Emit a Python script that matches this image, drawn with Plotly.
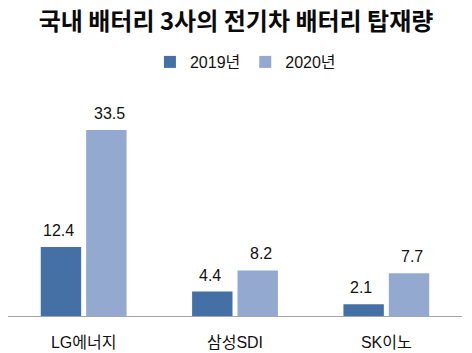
import plotly.graph_objects as go

categories = ["LG에너지", "삼성SDI", "SK이노"]
values_2019 = [12.4, 4.4, 2.1]
values_2020 = [33.5, 8.2, 7.7]
series_names = ["2019년", "2020년"]
colors = ["#4470A6", "#93A9D0"]

font_main = "Liberation Sans, Noto Sans CJK KR, sans-serif"

fig = go.Figure()
for name, vals, col in zip(series_names, [values_2019, values_2020], colors):
    fig.add_trace(go.Bar(
        x=categories, y=vals, name=name, marker_color=col,
        marker_line_width=0,
    ))

# value labels above bars
offsets = [-25.5, 25.5]
for vals, dx in zip([values_2019, values_2020], offsets):
    for c, v in zip(categories, vals):
        fig.add_annotation(
            x=c, y=v, text=f"{v}", showarrow=False,
            xshift=dx, yshift=6, yanchor="bottom",
            font=dict(family=font_main, size=16, color="#111111"),
        )

fig.update_layout(
    width=472, height=353,
    margin=dict(l=8, r=10, t=96, b=37, autoexpand=False),
    paper_bgcolor="white", plot_bgcolor="white",
    barmode="group", bargap=0.4, bargroupgap=0.11,
    title=dict(
        text="<b>국내 배터리 3사의 전기차 배터리 탑재량</b>",
        x=0.5, xanchor="center", xref="container",
        y=1 - 22 / 353, yanchor="middle", yref="container",
        font=dict(family="Noto Sans CJK KR, sans-serif", size=24, color="#0a0a0a"),
    ),
    legend=dict(
        orientation="h", x=0.52, xanchor="center", xref="container",
        y=1 - 62 / 353, yanchor="middle", yref="container",
        font=dict(family=font_main, size=16, color="#111111"),
        itemwidth=30, traceorder="normal",
    ),
    showlegend=True,
)
fig.update_xaxes(
    showline=True, linecolor="#A6A6A6", linewidth=1,
    ticks="", ticklabelstandoff=12, automargin=False,
    tickfont=dict(family=font_main, size=16, color="#111111"),
    showgrid=False,
)
fig.update_yaxes(
    range=[0, 39.6], visible=False, showgrid=False, zeroline=False,
    automargin=False,
)

fig.write_html("out.html")
